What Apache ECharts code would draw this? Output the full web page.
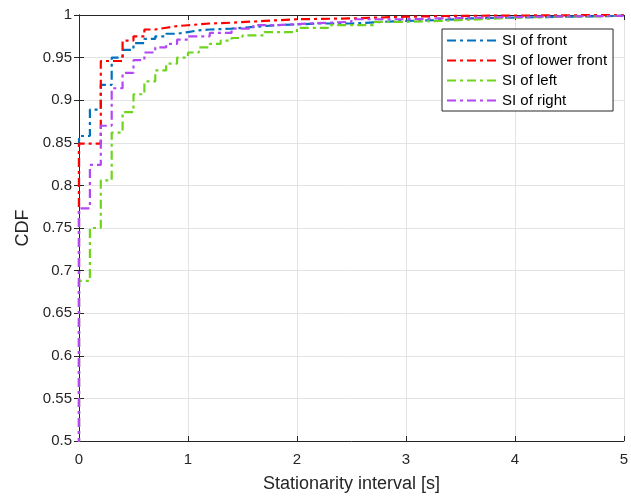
<!DOCTYPE html>
<html>
<head>
<meta charset="utf-8">
<title>CDF</title>
<script src="https://cdn.jsdelivr.net/npm/echarts@6/dist/echarts.min.js"></script>
<style>
    html, body { margin: 0; padding: 0; background: #fff; }
    #chart { width: 631px; height: 498px; }
</style>
</head>
<body>
<div id="chart"></div>
<script>
    // data: [x (s), CDF]
    var seriesNames = ["SI of front", "SI of lower front", "SI of left", "SI of right"];
    var xTicks = [0, 1, 2, 3, 4, 5];

    var front = [
        [0, 0], [0, 0.858], [0.1, 0.889], [0.2, 0.918], [0.3, 0.950], [0.4, 0.959], [0.5, 0.967],
        [0.6, 0.972], [0.7, 0.975], [0.8, 0.978], [0.9, 0.980], [1.0, 0.982], [1.1, 0.983],
        [1.2, 0.984], [1.4, 0.986], [1.6, 0.988], [1.8, 0.989], [2.0, 0.990], [2.2, 0.990],
        [2.5, 0.992], [2.8, 0.993], [3.0, 0.994], [3.3, 0.996], [3.6, 0.997], [4.0, 0.998],
        [4.5, 0.999], [5.0, 1.0]
    ];
    var lowerFront = [
        [0, 0], [0, 0.849], [0.1, 0.849], [0.2, 0.946], [0.3, 0.946], [0.4, 0.970], [0.5, 0.975],
        [0.6, 0.983], [0.7, 0.985], [0.8, 0.987], [0.9, 0.988], [1.0, 0.990], [1.2, 0.991],
        [1.4, 0.993], [1.7, 0.995], [2.0, 0.996], [2.5, 0.998], [3.0, 0.999], [3.5, 1.0],
        [5.0, 1.0]
    ];
    var left = [
        [0, 0], [0, 0.688], [0.1, 0.750], [0.2, 0.806], [0.3, 0.862], [0.4, 0.886], [0.5, 0.907],
        [0.6, 0.922], [0.7, 0.935], [0.8, 0.943], [0.9, 0.950], [1.0, 0.956], [1.1, 0.962],
        [1.2, 0.966], [1.3, 0.970], [1.4, 0.973], [1.5, 0.976], [1.7, 0.980], [2.0, 0.985],
        [2.3, 0.988], [2.7, 0.992], [3.0, 0.993], [3.3, 0.995], [3.7, 0.997], [4.0, 0.998],
        [4.5, 0.999], [5.0, 1.0]
    ];
    var right = [
        [0, 0], [0, 0.773], [0.1, 0.824], [0.2, 0.870], [0.3, 0.914], [0.4, 0.932], [0.5, 0.947],
        [0.6, 0.956], [0.7, 0.962], [0.8, 0.966], [0.9, 0.971], [1.0, 0.975], [1.2, 0.979],
        [1.4, 0.984], [1.6, 0.988], [1.8, 0.990], [2.1, 0.992], [2.5, 0.995], [3.0, 0.996],
        [3.3, 0.997], [3.7, 0.998], [4.2, 0.999], [5.0, 1.0]
    ];

    var colors = ["#0072BD", "#FF0000", "#6FD41E", "#B347F4"];
    var font = "Liberation Sans, Arial, Helvetica, sans-serif";
    var dashDot = [9, 4, 3, 4];

    function mkSeries(name, data, color) {
        return {
            name: name,
            type: "line",
            step: "end",
            data: data,
            symbol: "none",
            clip: true,
            color: color,
            lineStyle: { color: color, width: 2.2, type: dashDot }
        };
    }

    var boxAxis = {
        axisLine: { show: true, lineStyle: { color: "#262626", width: 1 } },
        axisTick: { show: true, inside: true, length: 5, lineStyle: { color: "#262626" } },
        axisLabel: { show: false },
        splitLine: { show: false }
    };

    var myChart = echarts.init(document.getElementById("chart"));
    var option = {
        animation: false,
        backgroundColor: "#fff",
        grid: { left: 79, right: 7, top: 15, bottom: 52 },
        legend: {
            data: seriesNames,
            orient: "vertical",
            left: 442,
            top: 29,
            itemWidth: 50,
            itemHeight: 10,
            itemGap: 5,
            padding: [4, 6, 3, 4],
            borderColor: "#262626",
            borderWidth: 1,
            backgroundColor: "#fff",
            itemStyle: { opacity: 0 },
            textStyle: { fontFamily: font, fontSize: 15, color: "#000" }
        },
        xAxis: [{
            type: "value",
            min: 0, max: 5, interval: 1,
            name: "Stationarity interval [s]",
            nameLocation: "middle",
            nameGap: 34,
            nameTextStyle: { fontFamily: font, fontSize: 18, color: "#262626" },
            axisLine: { show: true, onZero: false, lineStyle: { color: "#262626", width: 1 } },
            axisTick: { show: true, inside: true, length: 5, lineStyle: { color: "#262626" } },
            axisLabel: {
                margin: 11, fontFamily: font, fontSize: 15, color: "#262626",
                formatter: function (v) { return xTicks.indexOf(v) >= 0 ? String(v) : ""; }
            },
            splitLine: { show: true, lineStyle: { color: "#e3e3e3", width: 1 } }
        }, Object.assign({ type: "value", position: "top", min: 0, max: 5, interval: 1 }, boxAxis)],
        yAxis: [{
            type: "value",
            min: 0.5, max: 1, interval: 0.05,
            name: "CDF",
            nameLocation: "middle",
            nameGap: 43,
            nameTextStyle: { fontFamily: font, fontSize: 18, color: "#262626" },
            axisLine: { show: true, onZero: false, lineStyle: { color: "#262626", width: 1 } },
            axisTick: { show: true, inside: true, length: 5, lineStyle: { color: "#262626" } },
            axisLabel: {
                margin: 7, fontFamily: font, fontSize: 15, color: "#262626",
                formatter: function (v) { return String(Math.round(v * 100) / 100); }
            },
            splitLine: { show: true, lineStyle: { color: "#e3e3e3", width: 1 } }
        }, Object.assign({ type: "value", position: "right", min: 0.5, max: 1, interval: 0.05 }, boxAxis)],
        series: [
            mkSeries(seriesNames[0], front, colors[0]),
            mkSeries(seriesNames[1], lowerFront, colors[1]),
            mkSeries(seriesNames[2], left, colors[2]),
            mkSeries(seriesNames[3], right, colors[3])
        ]
    };

    myChart.setOption(option);
</script>
</body>
</html>
